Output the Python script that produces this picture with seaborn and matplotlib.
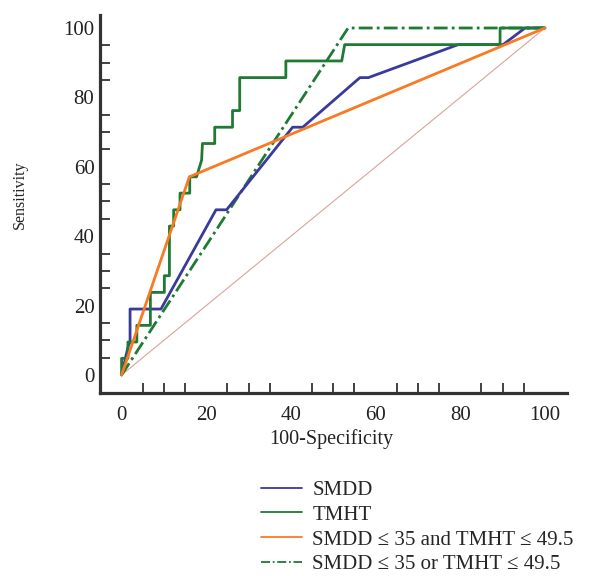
import pandas as pd
import numpy as np
import matplotlib
matplotlib.use("Agg")
import matplotlib.pyplot as plt
import seaborn as sns

# ROC curves (100-specificity vs sensitivity)
smdd_x = [0, 1.6, 2.0, 2.0, 9.3, 22.3, 24.8, 40.4, 42.8, 56.3, 58.3, 79.5, 90.1, 95.3, 100]
smdd_y = [0, 8.5, 9.5, 19.0, 19.0, 47.6, 47.6, 71.4, 71.4, 85.7, 85.7, 95.2, 95.2, 100, 100]

tmht_x = [0, 0, 1.5, 1.5, 3.6, 3.6, 6.8, 6.8, 10.1, 10.1, 11.3, 11.3, 12.3, 12.3,
          13.8, 13.8, 16.1, 16.1, 17.7, 18.9, 19.1, 22.0, 22.0, 26.2, 26.2, 27.9,
          27.9, 38.8, 38.8, 52.0, 52.7, 89.4, 89.4, 100]
tmht_y = [0, 4.8, 4.8, 9.5, 9.5, 14.3, 14.3, 23.8, 23.8, 28.6, 28.6, 42.9, 42.9, 47.6,
          47.6, 52.4, 52.4, 57.1, 57.1, 61.9, 66.7, 66.7, 71.4, 71.4, 76.2, 76.2,
          85.7, 85.7, 90.5, 90.5, 95.2, 95.2, 100, 100]

and_x = [0, 16.0, 100]
and_y = [0, 57.1, 100]

or_x = [0, 53.5, 100]
or_y = [0, 100, 100]

ref_x = [0, 100]
ref_y = [0, 100]

labels = ["SMDD", "TMHT", "SMDD \u2264 35 and TMHT \u2264 49.5", "SMDD \u2264 35 or TMHT \u2264 49.5"]

sns.set_theme(style="white")
plt.rcParams["font.family"] = ["Liberation Serif", "DejaVu Serif"]

fig = plt.figure(figsize=(6.12, 5.76), dpi=100)
ax = fig.add_axes([0.1634, 0.3177, 0.763, 0.656])

blue = "#3a3a9c"
green = "#1f7a33"
orange = "#fa7a22"

sns.lineplot(x=ref_x, y=ref_y, ax=ax, color="#d9a39c", linewidth=0.8,
             sort=False, estimator=None, zorder=1)
sns.lineplot(x=or_x, y=or_y, ax=ax, color=green, linewidth=2.0, sort=False,
             estimator=None, linestyle=(0, (5, 1.5, 1, 1.5)), label=labels[3], zorder=2)
sns.lineplot(x=smdd_x, y=smdd_y, ax=ax, color=blue, linewidth=2.0, sort=False,
             estimator=None, label=labels[0], zorder=3)
sns.lineplot(x=tmht_x, y=tmht_y, ax=ax, color=green, linewidth=2.0, sort=False,
             estimator=None, label=labels[1], zorder=4)
sns.lineplot(x=and_x, y=and_y, ax=ax, color=orange, linewidth=2.0, sort=False,
             estimator=None, label=labels[2], zorder=5)

ax.set_xlim(-5.1, 105.2)
ax.set_ylim(-5.2, 103.7)

major = [0, 20, 40, 60, 80, 100]
minor = [v for v in range(5, 100, 5) if v % 20 != 0]
ax.set_xticks(major)
ax.set_yticks(major)
ax.set_xticks(minor, minor=True)
ax.set_yticks(minor, minor=True)
ax.tick_params(which="both", bottom=True, left=True)
ax.tick_params(which="major", length=0, labelsize=15, colors="#222222")
ax.tick_params(axis="x", which="major", pad=9)
ax.tick_params(axis="y", which="major", pad=4)
ax.tick_params(which="minor", direction="in", length=7, width=1.3, color="#333333")

for s in ["top", "right"]:
    ax.spines[s].set_visible(False)
for s in ["left", "bottom"]:
    ax.spines[s].set_linewidth(2.3)
    ax.spines[s].set_color("#333333")

ax.set_xlabel("100-Specificity", fontsize=14.5, color="#222222")
ax.set_ylabel("Sensitivity", fontsize=11.5, color="#222222")
ax.xaxis.set_label_coords(0.495, -0.095)
ax.yaxis.set_label_coords(-0.155, 0.524)

ax.get_legend().remove()
handles, labs = ax.get_legend_handles_labels()
order = [labs.index(l) for l in labels]
leg = fig.legend([handles[i] for i in order], [labs[i] for i in order],
                 loc="upper left", bbox_to_anchor=(0.427, 0.166), frameon=False,
                 fontsize=15, handlelength=1.95, handletextpad=0.5,
                 labelspacing=0.25, borderpad=0, borderaxespad=0)
for ln in leg.get_lines():
    ln.set_linewidth(1.3)

fig.savefig("out.png", dpi=100)
